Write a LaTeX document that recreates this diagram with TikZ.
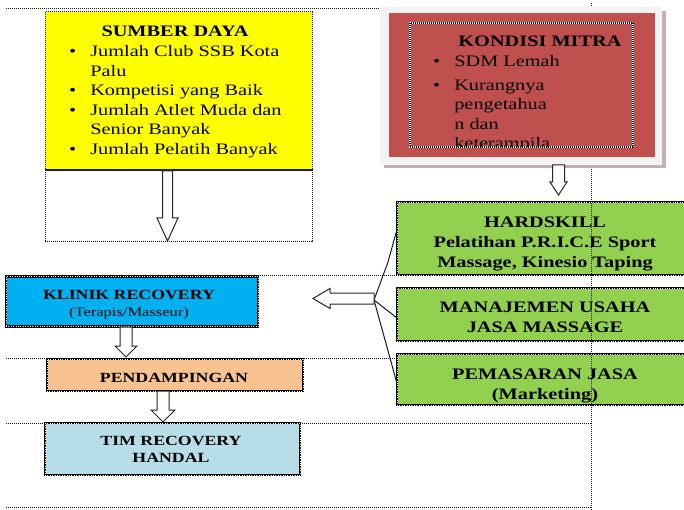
\documentclass[tikz,border=0pt]{standalone}
\usepackage{fontspec}
\setmainfont[FakeStretch=1.27]{Liberation Serif}
\usetikzlibrary{calc}
\definecolor{sdyellow}{HTML}{FFFF00}
\definecolor{mitrared}{HTML}{C0504D}
\definecolor{framegray}{HTML}{F2F2F2}
\definecolor{shadowc}{HTML}{C6AEAE}
\definecolor{skillgreen}{HTML}{92D050}
\definecolor{klinikblue}{HTML}{00B0F0}
\definecolor{pendsalmon}{HTML}{F8C291}
\definecolor{timblue}{HTML}{B7DEE8}
\newcommand\vblock[6]{\draw[blockarr] ({#1-#4},#2) -- ({#1-#4},{#3-#6}) -- ({#1-#5},{#3-#6}) -- (#1,#3) -- ({#1+#5},{#3-#6}) -- ({#1+#4},{#3-#6}) -- ({#1+#4},#2) -- cycle;}
\begin{document}
\begin{tikzpicture}[x=1pt,y=-1pt,
  boxb/.style={draw=black, line width=2.5pt, postaction={draw=white, line width=0.6pt, dash pattern=on 0.6pt off 1.8pt}},
  sepline/.style={draw=black!90, line width=1pt, dash pattern=on 1pt off 1pt},
  thinbox/.style={draw=black!90, line width=1pt, dash pattern=on 1pt off 1pt},
  blockarr/.style={draw=black!85, line width=1pt, fill=white, line join=miter},
  emptybox/.style={inner sep=0, outer sep=0},
  titlef/.style={font=\fontsize{16}{20}\selectfont\bfseries, align=center, inner sep=0},
  smallb/.style={font=\fontsize{14}{17}\selectfont\bfseries, align=center, inner sep=0},
  itemf/.style={font=\fontsize{16}{19.5}\selectfont, inner sep=0},
]
\useasboundingbox (0,0) rectangle (684,510);

% separator lines
\draw[sepline] (6,9) -- (380,9);
\draw[sepline] (6,275) -- (397,275);
\draw[sepline] (6,358) -- (397,358);
\draw[sepline] (6,423) -- (591,423);
\draw[sepline] (6,507) -- (591,507);

% SUMBER DAYA
\node[emptybox, thinbox, fill=sdyellow, minimum width=267, minimum height=158] (sumber) at (178.5,91) {};
\node[emptybox, thinbox, minimum width=267, minimum height=72] (sumberext) at (178.5,206) {};
\draw[line width=1.4pt, black!90] (sumber.south west) -- (sumber.south east);
\node[titlef, anchor=base] (sdtitle) at (175,36.7) {SUMBER DAYA};
\node[itemf, anchor=base west] (sditems) at (69,57) {\begin{tabular}[t]{@{}l@{\hspace{14pt}}l@{}}\textbullet & Jumlah Club SSB Kota\\ & Palu\\ \textbullet & Kompetisi yang Baik\\ \textbullet & Jumlah Atlet Muda dan\\ & Senior Banyak\\ \textbullet & Jumlah Pelatih Banyak\end{tabular}};
\vblock{167.5}{171}{241}{5}{10.5}{23}

% green boxes
\node[emptybox, boxb, fill=skillgreen, minimum width=296, minimum height=73] (hard) at (545,238.5) {};
\node[emptybox, boxb, fill=skillgreen, minimum width=296, minimum height=53] (manaj) at (545,314.5) {};
\node[emptybox, boxb, fill=skillgreen, minimum width=296, minimum height=51] (pemas) at (545,379.5) {};
\node[titlef] (hardtxt) at (545,243.5) {HARDSKILL\\Pelatihan P.R.I.C.E Sport\\Massage, Kinesio Taping};
\node[titlef] (manajtxt) at (545,317.7) {MANAJEMEN USAHA\\JASA MASSAGE};
\node[titlef] (pemastxt) at (545,386) {PEMASARAN JASA\\(Marketing)};

% vertical dotted guide
\draw[sepline] (591,3) -- (591,510);

% KONDISI MITRA
\fill[shadowc] (384,11) rectangle (666,168);
\fill[framegray] (380,7) rectangle (662,165);
\node[emptybox, fill=mitrared, minimum width=266, minimum height=144] (mitra) at (522,85) {};
\node[emptybox, minimum width=223, minimum height=124] (mitrain) at (521.5,85) {};
\draw[white, line width=1.4pt] (mitrain.north west) rectangle (mitrain.south east);
\draw[black, line width=1.4pt, dash pattern=on 1pt off 1pt] (mitrain.north west) rectangle (mitrain.south east);
\begin{scope}
\clip (mitrain.north west) rectangle (mitrain.south east);
\node[titlef, anchor=base] (mitratitle) at (540,47) {KONDISI MITRA};
\node[itemf, anchor=base west] (mitraitems) at (433,67) {\begin{tabular}[t]{@{}l@{\hspace{14pt}}l@{}}\textbullet & SDM Lemah\\[4pt] \textbullet & Kurangnya\\ & pengetahua\\ & n dan\\ & keterampila\end{tabular}};
\end{scope}
\vblock{558.5}{165}{195}{6}{8.5}{13}

% bracket and left arrow
\coordinate (brk) at (374,300);
\draw[black!90, line width=1pt] ([yshift=9pt]hard.west) -- (388,262) -- (brk);
\draw[black!90, line width=1pt] (brk) -- ([yshift=-3.5pt]manaj.west);
\draw[black!90, line width=1pt] (brk) -- ([yshift=-4pt]pemas.west);

% left column
\node[emptybox, boxb, fill=klinikblue, minimum width=252, minimum height=50] (klinik) at (132,301.5) {};
\node[smallb] (kliniktxt) at (129,304.8) {KLINIK RECOVERY\\{\fontsize{13}{17}\selectfont\mdseries (Terapis/Masseur)}};
\draw[blockarr] (374,293) -- (330,293) -- (330,288.5) -- (313,298.5) -- (330,308.5) -- (330,304) -- (374,304) -- cycle;
\node[emptybox, boxb, fill=pendsalmon, minimum width=256, minimum height=32] (pend) at (175,375) {};
\node[smallb] (pendtxt) at (174,378.4) {PENDAMPINGAN};
\node[emptybox, boxb, fill=timblue, minimum width=255, minimum height=52] (tim) at (172.5,449) {};
\node[smallb] (timtxt) at (171,448.9) {TIM RECOVERY\\HANDAL};
\vblock{126}{327}{357}{6}{11}{11}
\vblock{163}{391}{422}{6}{12}{12}
\end{tikzpicture}
\end{document}
